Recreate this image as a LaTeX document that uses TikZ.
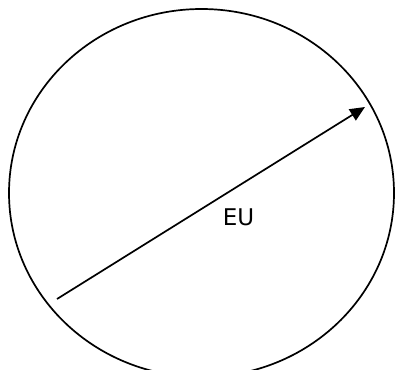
\documentclass[tikz,border=0pt]{standalone}
\usepackage{fontspec}
\setmainfont{DejaVu Sans}
\usetikzlibrary{arrows.meta}
\begin{document}
\begin{tikzpicture}[x=1pt,y=-1pt,
  outline/.style={draw=black,line width=1.7pt},
  vec/.style={draw=black,line width=1.7pt,-{Triangle[length=15pt,width=13pt]}},
  lbl/.style={font=\fontsize{23}{27}\selectfont,inner sep=0pt}]
\useasboundingbox (0,0) rectangle (395,369);
\clip (0,0) rectangle (395,369);
\fill[white] (0,0) rectangle (395,369);
\draw[outline] (201.5,193) ellipse [x radius=192.5, y radius=184];
\coordinate (s) at (57,299);
\coordinate (t) at (365,107);
\draw[vec] (s) -- (t);
\node[lbl] (eu) at (238.5,217) {EU};
\end{tikzpicture}
\end{document}
